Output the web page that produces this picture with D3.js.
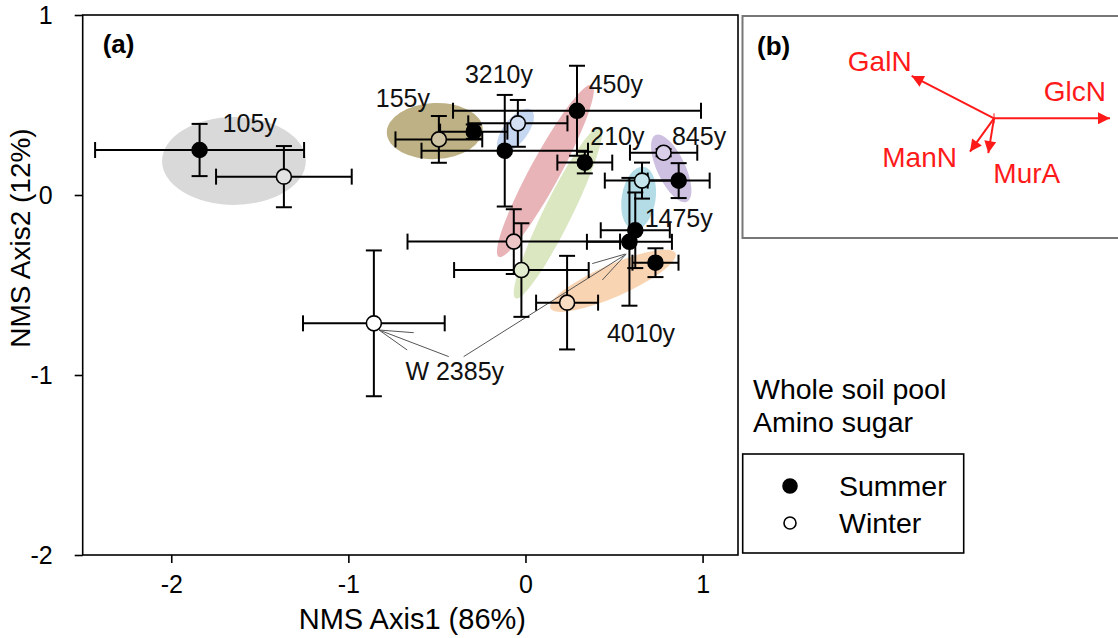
<!DOCTYPE html>
<html>
<head>
<meta charset="utf-8">
<script src="https://cdn.jsdelivr.net/npm/d3@7"></script>
<style>
  html, body { margin: 0; padding: 0; background: #fff; }
  svg { display: block; font-family: Arial, "Liberation Sans", sans-serif; }
</style>
</head>
<body>
<svg id="chart" width="1118" height="638"></svg>
<script>
// ---------------- DATA ----------------
const groups = ["105y", "155y", "210y", "450y", "845y", "1475y", "2385y", "3210y", "4010y"];

const summerX    = [-1.84, -0.292, 0.335, 0.291, 0.865, 0.62, 0.587, -0.117, 0.734];
const summerY    = [0.25, 0.352, 0.18, 0.468, 0.08, -0.196, -0.26, 0.246, -0.376];
const summerXErr = [0.59, 0.19, 0.155, 0.70, 0.175, 0.195, 0.24, 0.47, 0.13];
const summerYErr = [0.145, 0.04, 0.06, 0.25, 0.097, 0.21, 0.355, 0.31, 0.08];

const winterX    = [-1.364, -0.489, -0.023, -0.066, 0.78, 0.658, -0.856, -0.043, 0.235];
const winterY    = [0.102, 0.309, -0.417, -0.259, 0.235, 0.08, -0.713, 0.398, -0.598];
const winterXErr = [0.383, 0.245, 0.38, 0.60, 0.19, 0.21, 0.40, 0.28, 0.175];
const winterYErr = [0.17, 0.13, 0.26, 0.18, 0.02, 0.10, 0.405, 0.13, 0.26];

// group shading ellipses: major-axis end points (data units) and half width (NMS Axis2 units)
const ellipseGroup = ["105y", "155y", "3210y", "450y", "210y", "1475y", "845y", "4010y"];
const ellipseX1 = [-2.052, -0.783, -0.146, -0.151, -0.056, 0.611, 0.734, 0.141];
const ellipseY1 = [0.189, 0.344, 0.242, -0.343, -0.574, -0.194, 0.333, -0.629];
const ellipseX2 = [-1.24, -0.241, 0.033, 0.376, 0.423, 0.667, 0.912, 0.847];
const ellipseY2 = [0.189, 0.367, 0.472, 0.611, 0.379, 0.157, -0.037, -0.324];
const ellipseHalfWidth = [0.244, 0.156, 0.067, 0.083, 0.078, 0.094, 0.078, 0.089];
const ellipseColor = ["#d2d2d2", "#b3a370", "#bcd0ee", "#e4a7ab", "#d3e3b6", "#a6d6e2", "#c4b5db", "#f8cca4"];

// sample-age labels (anchor positions in data units)
const labelText = ["105y", "155y", "3210y", "450y", "210y", "845y", "1475y", "4010y", "W 2385y"];
const labelX = [-1.71, -0.845, -0.342, 0.357, 0.366, 0.827, 0.673, 0.46, -0.678];
const labelY = [0.35, 0.491, 0.624, 0.569, 0.278, 0.278, -0.176, -0.815, -1.028];

// leader lines from the "W 2385y" label (data units)
const leaderX1 = [-0.433, -0.827, -0.827, -0.349, 0.377, 0.434];
const leaderY1 = [-0.898, -0.75, -0.75, -0.898, -0.381, -0.472];
const leaderX2 = [-0.827, -0.631, -0.668, 0.57, 0.564, 0.564];
const leaderY2 = [-0.75, -0.765, -0.861, -0.328, -0.328, -0.333];

// panel (b) amino-sugar vectors
const vectorNames = ["GlcN", "GalN", "ManN", "MurA"];
const vectorX = [1.0, -0.71, -0.207, -0.049];
const vectorY = [0.0, 0.365, -0.288, -0.30];

const xTicks = [-2, -1, 0, 1];
const yTicks = [-2, -1, 0, 1];
const legendLabels = ["Summer", "Winter"];

// ---------------- CHART ----------------
const svg = d3.select("#chart");
const FONT = 'Arial, "Liberation Sans", sans-serif';

const x = d3.scaleLinear().domain([-2.5, 1.2]).range([82.7, 738]);
const y = d3.scaleLinear().domain([-2, 1]).range([555, 15]);

// axes
const xAxis = svg.append("g").attr("transform", `translate(0,${y(-2)})`)
  .call(d3.axisBottom(x).tickValues(xTicks).tickFormat(d => String(d)).tickSize(8).tickPadding(12));
const yAxis = svg.append("g").attr("transform", `translate(${x(-2.5)},0)`)
  .call(d3.axisLeft(y).tickValues(yTicks).tickFormat(d => String(d)).tickSize(8).tickPadding(22));
[xAxis, yAxis].forEach(a => {
  a.select(".domain").remove();
  a.selectAll(".tick line").attr("stroke", "#000").attr("stroke-width", 1.6);
  a.selectAll(".tick text").attr("fill", "#000").style("font-size", "25px").style("font-family", FONT);
});

// frame of panel (a)
svg.append("rect")
  .attr("x", x(-2.5)).attr("y", y(1))
  .attr("width", x(1.2) - x(-2.5)).attr("height", y(-2) - y(1))
  .attr("fill", "none").attr("stroke", "#000").attr("stroke-width", 1.6);

// axis titles
svg.append("text").attr("x", (x(-2.5) + x(1.2)) / 2 + 2).attr("y", 629)
  .attr("text-anchor", "middle").style("font-size", "29px").text("NMS Axis1 (86%)");
svg.append("text").attr("transform", `translate(30,${238}) rotate(-90)`)
  .attr("text-anchor", "middle").style("font-size", "28px").text("NMS Axis2 (12%)");

svg.append("text").attr("x", x(-2.5) + 20).attr("y", y(1) + 38)
  .style("font-size", "26px").style("font-weight", "bold").text("(a)");

// ellipses
const ellData = ellipseGroup.map((g, i) => {
  const p1 = [x(ellipseX1[i]), y(ellipseY1[i])];
  const p2 = [x(ellipseX2[i]), y(ellipseY2[i])];
  return {
    group: g,
    cx: (p1[0] + p2[0]) / 2, cy: (p1[1] + p2[1]) / 2,
    rx: Math.hypot(p2[0] - p1[0], p2[1] - p1[1]) / 2,
    ry: y(0) - y(ellipseHalfWidth[i]),
    ang: Math.atan2(p2[1] - p1[1], p2[0] - p1[0]) * 180 / Math.PI,
    color: ellipseColor[i]
  };
});
svg.append("g").selectAll("ellipse").data(ellData).join("ellipse")
  .attr("transform", d => `translate(${d.cx},${d.cy}) rotate(${d.ang})`)
  .attr("rx", d => d.rx).attr("ry", d => d.ry)
  .attr("fill", d => d.color).attr("fill-opacity", 0.85);

// leader lines
svg.append("g").selectAll("line").data(leaderX1.map((v, i) => i)).join("line")
  .attr("x1", i => x(leaderX1[i])).attr("y1", i => y(leaderY1[i]))
  .attr("x2", i => x(leaderX2[i])).attr("y2", i => y(leaderY2[i]))
  .attr("stroke", "#555").attr("stroke-width", 1);

// points
const colorOf = g => {
  const k = ellipseGroup.indexOf(g);
  return k < 0 ? "#ffffff" : d3.interpolateRgb(ellipseColor[k], "#ffffff")(0.35);
};
const pts = [];
groups.forEach((g, i) => {
  pts.push({ g, season: "Summer", x: summerX[i], y: summerY[i], xe: summerXErr[i], ye: summerYErr[i] });
});
groups.forEach((g, i) => {
  pts.push({ g, season: "Winter", x: winterX[i], y: winterY[i], xe: winterXErr[i], ye: winterYErr[i] });
});

const cap = 8;
const eb = svg.append("g").attr("stroke", "#000").attr("stroke-width", 2).attr("fill", "none");
pts.forEach(p => {
  const px = x(p.x), py = y(p.y);
  const xl = x(p.x - p.xe), xr = x(p.x + p.xe);
  const yt = y(p.y + p.ye), yb = y(p.y - p.ye);
  eb.append("line").attr("x1", xl).attr("x2", xr).attr("y1", py).attr("y2", py);
  eb.append("line").attr("x1", xl).attr("x2", xl).attr("y1", py - cap).attr("y2", py + cap);
  eb.append("line").attr("x1", xr).attr("x2", xr).attr("y1", py - cap).attr("y2", py + cap);
  eb.append("line").attr("x1", px).attr("x2", px).attr("y1", yt).attr("y2", yb);
  eb.append("line").attr("x1", px - cap).attr("x2", px + cap).attr("y1", yt).attr("y2", yt);
  eb.append("line").attr("x1", px - cap).attr("x2", px + cap).attr("y1", yb).attr("y2", yb);
});

svg.append("g").selectAll("circle").data(pts).join("circle")
  .attr("cx", d => x(d.x)).attr("cy", d => y(d.y)).attr("r", 7.5)
  .attr("fill", d => d.season === "Summer" ? "#000" : colorOf(d.g))
  .attr("stroke", "#000").attr("stroke-width", 1.6);

// labels
svg.append("g").selectAll("text").data(labelText).join("text")
  .attr("x", (d, i) => x(labelX[i])).attr("y", (d, i) => y(labelY[i]))
  .style("font-size", "25px").attr("fill", "#111").text(d => d);

// ---------------- PANEL (b) ----------------
svg.append("rect").attr("x", 742.5).attr("y", 16).attr("width", 400).attr("height", 222)
  .attr("fill", "none").attr("stroke", "#777").attr("stroke-width", 2);
svg.append("text").attr("x", 757).attr("y", 55)
  .style("font-size", "26px").style("font-weight", "bold").text("(b)");

const xb = d3.scaleLinear().domain([0, 1]).range([994, 1110]);
const yb = d3.scaleLinear().domain([0, 1]).range([118.3, 2.3]);
svg.append("defs").append("marker").attr("id", "arrow")
  .attr("viewBox", "0 0 10 10").attr("refX", 10).attr("refY", 5)
  .attr("markerWidth", 7).attr("markerHeight", 6).attr("markerUnits", "strokeWidth")
  .attr("orient", "auto")
  .append("path").attr("d", "M0,0 L10,5 L0,10 Z").attr("fill", "#ff1a1a");
svg.append("g").selectAll("line").data(vectorNames).join("line")
  .attr("x1", xb(0)).attr("y1", yb(0))
  .attr("x2", (d, i) => xb(vectorX[i])).attr("y2", (d, i) => yb(vectorY[i]))
  .attr("stroke", "#ff1a1a").attr("stroke-width", 2).attr("marker-end", "url(#arrow)");
svg.append("line").attr("x1", xb(0)).attr("x2", xb(0)).attr("y1", yb(0) - 5).attr("y2", yb(0) + 5)
  .attr("stroke", "#ff1a1a").attr("stroke-width", 1);

const vLabelDx = [-4, 0, -13, 5];
const vLabelDy = [-17, -5, 15, 30];
const vLabelAnchor = ["end", "end", "end", "start"];
svg.append("g").selectAll("text").data(vectorNames).join("text")
  .attr("x", (d, i) => xb(vectorX[i]) + vLabelDx[i])
  .attr("y", (d, i) => yb(vectorY[i]) + vLabelDy[i])
  .attr("text-anchor", (d, i) => vLabelAnchor[i])
  .attr("fill", "#ff1a1a").style("font-size", "28px").text(d => d);

// ---------------- annotation + legend ----------------
svg.append("text").attr("x", 753).attr("y", 399).style("font-size", "28.5px").text("Whole soil pool");
svg.append("text").attr("x", 753).attr("y", 432).style("font-size", "28.5px").text("Amino sugar");

svg.append("rect").attr("x", 742.7).attr("y", 454).attr("width", 221).attr("height", 99)
  .attr("fill", "none").attr("stroke", "#000").attr("stroke-width", 1.6);
const lg = svg.append("g").selectAll("g").data(legendLabels).join("g")
  .attr("transform", (d, i) => `translate(790,${486 + i * 37})`);
lg.append("circle").attr("r", (d, i) => i === 0 ? 7 : 6)
  .attr("fill", (d, i) => i === 0 ? "#000" : "#fff").attr("stroke", "#000").attr("stroke-width", 1.6);
lg.append("text").attr("x", 49).attr("y", 9.5).style("font-size", "28.5px").text(d => d);
</script>
</body>
</html>
